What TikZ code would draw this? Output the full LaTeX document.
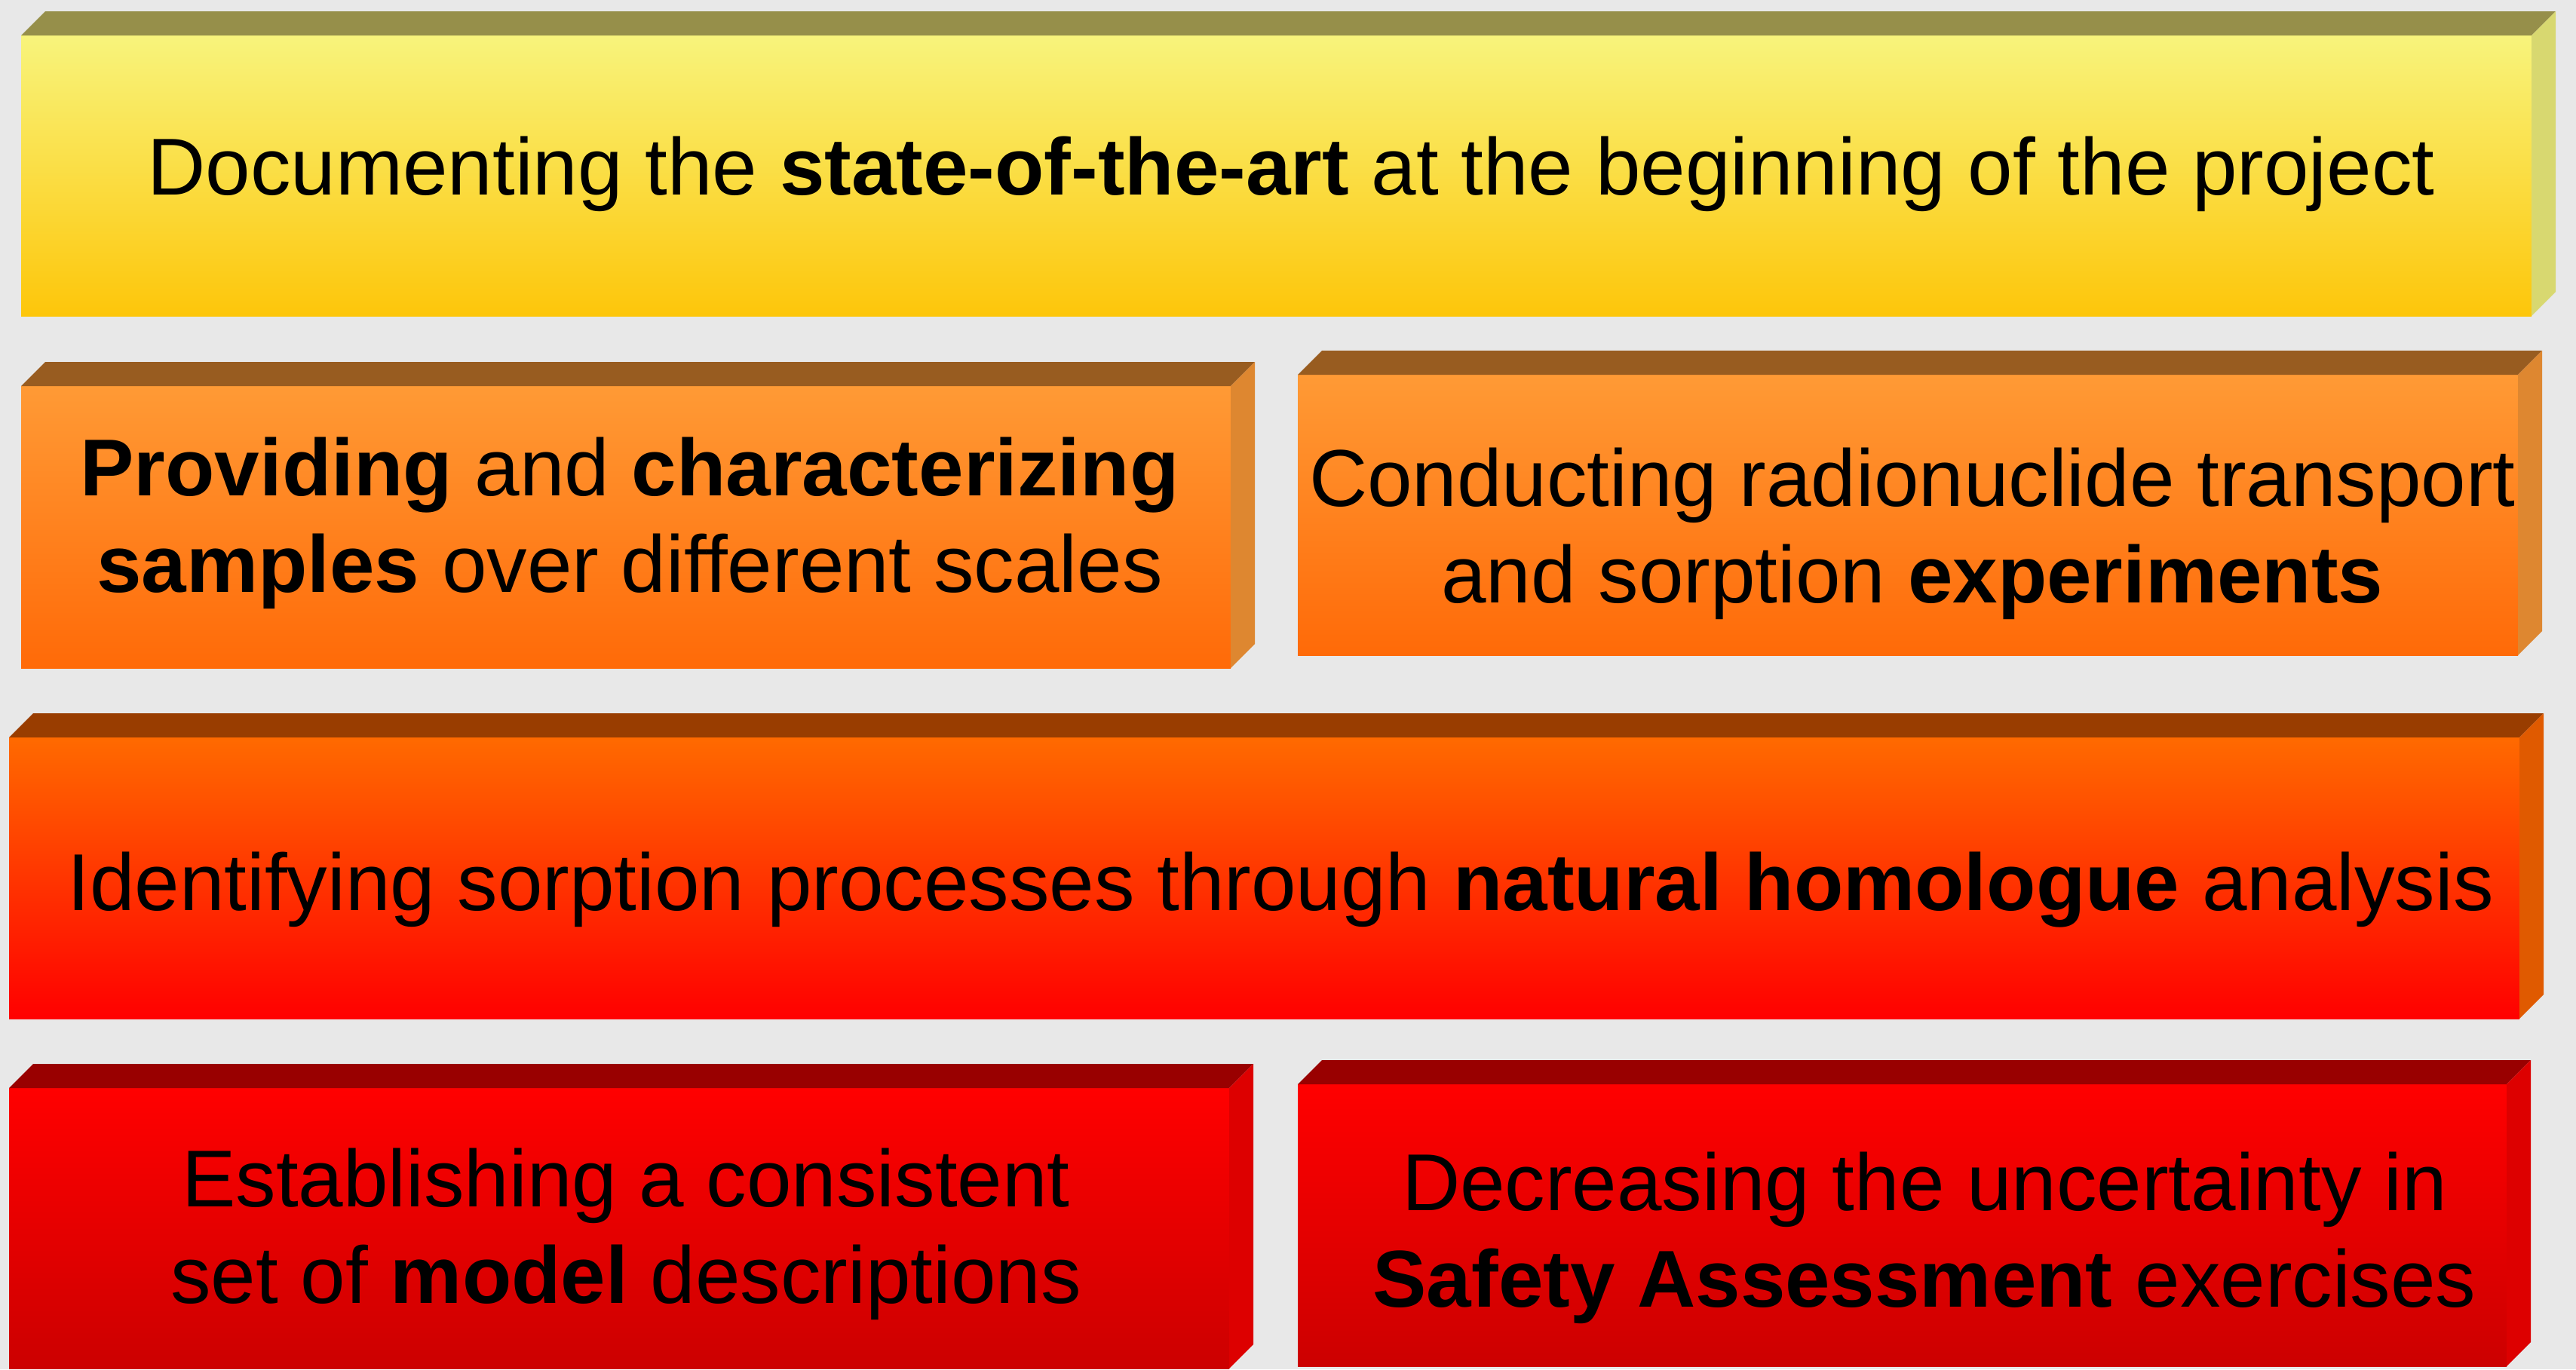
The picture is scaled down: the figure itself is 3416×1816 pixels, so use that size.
\documentclass[tikz,border=0pt]{standalone}
\usepackage{fontspec}
\setmainfont{Liberation Sans}
\begin{document}
% colours of the six slabs
\definecolor{bgcol}{HTML}{E8E8E8}
\definecolor{ylwA}{HTML}{F8F47C}
\definecolor{ylwB}{HTML}{FDC60A}
\definecolor{ylwTop}{HTML}{968F4A}
\definecolor{ylwSide}{HTML}{D8D870}
\definecolor{orgA}{HTML}{FF9A35}
\definecolor{orgB}{HTML}{FF6A08}
\definecolor{orgTop}{HTML}{985C20}
\definecolor{orgSide}{HTML}{DE8730}
\definecolor{vrmA}{HTML}{FF6A00}
\definecolor{vrmB}{HTML}{FF0000}
\definecolor{vrmTop}{HTML}{993D00}
\definecolor{vrmSide}{HTML}{E05A00}
\definecolor{redA}{HTML}{FF0000}
\definecolor{redB}{HTML}{CC0000}
\definecolor{redTop}{HTML}{990000}
\definecolor{redSide}{HTML}{DD0000}
\tikzset{
  face/.style={rectangle, inner sep=0pt, outer sep=0pt, shading=axis},
  label/.style={anchor=base, align=center, inner sep=0pt, text=black,
    font=\fontsize{53.5pt}{64pt}\selectfont},
}
% #1 name, #2..#5 front face x1 y1 x2 y2, #6/#7 front gradient, #8 top face, #9 side face
\newcommand\slab[9]{%
  \node[face, minimum width={(#4-#2)*0.5pt}, minimum height={(#5-#3)*0.5pt},
        top color=#6, bottom color=#7] (#1) at ({(#2+#4)/2},{(#3+#5)/2}) {};
  \fill[#8] (#1.north west) -- ++(32,-32) -- ([shift={(32,-32)}]#1.north east)
            -- (#1.north east) -- cycle;
  \fill[#9] (#1.north east) -- ++(32,-32) -- ([shift={(32,-32)}]#1.south east)
            -- (#1.south east) -- cycle;
}
\begin{tikzpicture}[x=0.5pt, y=-0.5pt]
  \fill[bgcol] (0,0) rectangle (3416,1816);
  \useasboundingbox (0,0) rectangle (3416,1816);
  \begin{scope}
    \clip (0,0) rectangle (3416,1816);
    \slab{s1}{28}{47}{3357}{419}{ylwA}{ylwB}{ylwTop}{ylwSide}
    \slab{s2}{28}{512}{1632}{886}{orgA}{orgB}{orgTop}{orgSide}
    \slab{s3}{1721}{497}{3339}{869}{orgA}{orgB}{orgTop}{orgSide}
    \slab{s4}{12}{978}{3341}{1351}{vrmA}{vrmB}{vrmTop}{vrmSide}
    \slab{s5}{12}{1443}{1630}{1815}{redA}{redB}{redTop}{redSide}
    \slab{s6}{1721}{1438}{3324}{1812}{redA}{redB}{redTop}{redSide}
  \end{scope}
  % anchor=base of a two-line label sits on its last line
  \node[label] (t1) at (1712,258)
    {Documenting the \textbf{state-of-the-art} at the beginning of the project};
  \node[label] (t2) at (835,785)
    {\textbf{Providing} and \textbf{characterizing}\\\textbf{samples} over different scales};
  \node[label] (t3) at (2536,799)
    {Conducting radionuclide transport\\and sorption \textbf{experiments}};
  \node[label] (t4) at (1698,1207)
    {Identifying sorption processes through \textbf{natural homologue} analysis};
  \node[label] (t5) at (830,1728)
    {Establishing a consistent\\set of \textbf{model} descriptions};
  \node[label] (t6) at (2552,1733)
    {Decreasing the uncertainty in\\\textbf{Safety Assessment} exercises};
\end{tikzpicture}
\end{document}
